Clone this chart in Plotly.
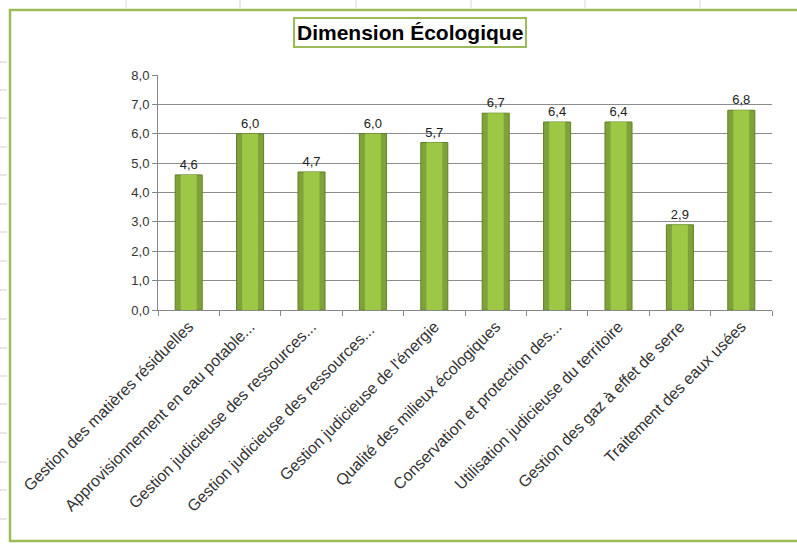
import plotly.graph_objects as go

categories = [
    "Gestion des matières résiduelles",
    "Approvisionnement en eau potable...",
    "Gestion judicieuse des ressources...",
    "Gestion judicieuse des ressources... ",
    "Gestion judicieuse de l'énergie",
    "Qualité des milieux écologiques",
    "Conservation et protection des...",
    "Utilisation judicieuse du territoire",
    "Gestion des gaz à effet de serre",
    "Traitement des eaux usées",
]
values = [4.6, 6.0, 4.7, 6.0, 5.7, 6.7, 6.4, 6.4, 2.9, 6.8]
y_ticks = [0, 1, 2, 3, 4, 5, 6, 7, 8]
title_text = "Dimension Écologique"

W, H = 797, 546
L, R, T, B = 158, 772, 75, 310  # plot area in pixels

def px(x):
    return (x - L) / (R - L)

def py(y):
    return (B - y) / (B - T)

GREEN = "#9BBB59"

fig = go.Figure()
fig.add_trace(go.Bar(
    x=categories, y=values, width=0.44,
    marker=dict(color="#7FA33A", line=dict(color="#5F7F25", width=1)),
    texttemplate="%{y:.1f}", textposition="outside",
    textfont=dict(size=13, color="#222", family="Liberation Sans"),
    cliponaxis=False, hoverinfo="skip",
))
fig.add_trace(go.Bar(
    x=categories, y=values, width=0.26,
    marker=dict(color="#9CC846", line=dict(width=0)),
    hoverinfo="skip",
))

shapes = []
# spreadsheet faint grid outside frame
for xv in [126, 240, 356, 471, 585, 700]:
    shapes.append(dict(type="line", xref="paper", yref="paper",
                       x0=px(xv), x1=px(xv), y0=py(0), y1=py(8),
                       line=dict(color="#D9D9D9", width=1)))
for yv in [319, 348, 376, 404, 433, 462, 490, 519, 62, 90, 118, 147, 175, 204, 232, 261, 290]:
    shapes.append(dict(type="line", xref="paper", yref="paper",
                       x0=px(0), x1=px(7), y0=py(yv), y1=py(yv),
                       line=dict(color="#D0D0D0", width=1)))
# green frame
shapes.append(dict(type="rect", xref="paper", yref="paper",
                   x0=px(10), x1=px(800), y0=py(10), y1=py(541),
                   line=dict(color=GREEN, width=2.5), fillcolor="rgba(0,0,0,0)",
                   layer="below"))

fig.update_layout(
    width=W, height=H,
    margin=dict(l=L, r=W - R, t=T, b=H - B),
    paper_bgcolor="white", plot_bgcolor="white",
    barmode="overlay",
    showlegend=False,
    separators=", ",
    shapes=shapes,
    annotations=[dict(
        text="<b>" + title_text + "</b>", xref="paper", yref="paper",
        x=px(410), y=py(33), xanchor="center", yanchor="middle",
        showarrow=False, font=dict(size=21, color="#000", family="Liberation Sans"),
        bordercolor=GREEN, borderwidth=2, borderpad=2, bgcolor="white",
    )],
    xaxis=dict(
        type="category", tickangle=-45, tickson="boundaries",
        ticks="outside", ticklen=5, tickcolor="#888",
        showline=True, linecolor="#888", linewidth=1,
        tickfont=dict(size=16, color="#333", family="Liberation Sans"),
        showgrid=False,
    ),
    yaxis=dict(
        range=[0, 8], tickvals=y_ticks, tickformat=".1f",
        ticks="outside", ticklen=5, tickcolor="#888",
        showline=True, linecolor="#888", linewidth=1,
        showgrid=True, gridcolor="#8C8C8C", gridwidth=1,
        tickfont=dict(size=13, color="#333", family="Liberation Sans"),
        zeroline=False,
    ),
)

fig.write_html("out.html")
